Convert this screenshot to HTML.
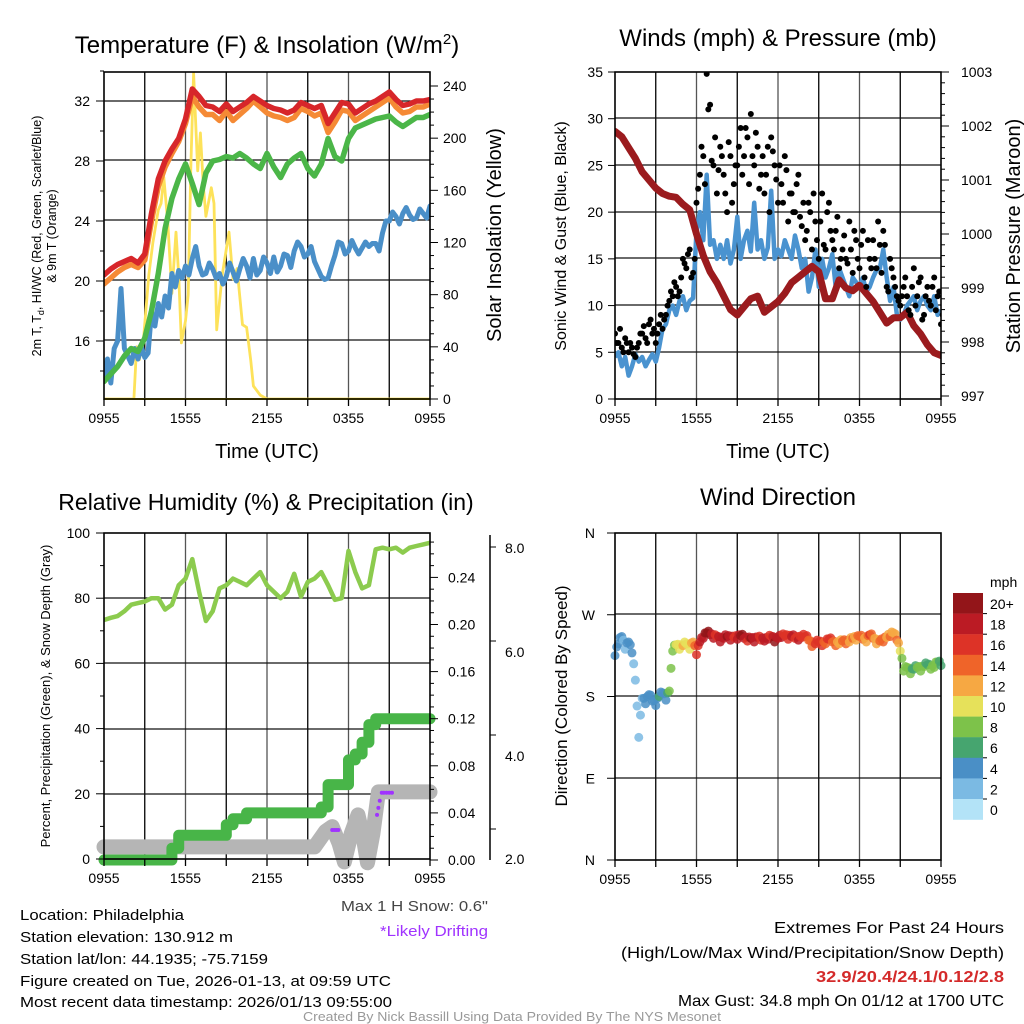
<!DOCTYPE html>
<html><head><meta charset="utf-8">
<style>
html,body{margin:0;padding:0;background:#fff;}
svg{display:block;font-family:"Liberation Sans",Arial,sans-serif;}
</style></head>
<body>
<svg id="c" width="1024" height="1024" viewBox="0 0 1024 1024" xmlns="http://www.w3.org/2000/svg">
<defs>
<clipPath id="clip1"><rect x="104" y="72" width="326" height="327"/></clipPath>
<clipPath id="clip2"><rect x="615" y="72" width="326" height="327"/></clipPath>
</defs>
</svg>
<script>
// ---------- DATA ----------
const xTickLabels = ["0955","1555","2155","0355","0955"];
// half-hourly (0..24h)
const tempRed = [20.4,20.8,21.1,21.3,21.5,21.2,21.8,24.5,26.8,28,28.8,29.5,30.8,32.8,32.3,31.7,31.6,31.3,31.8,31.3,31.6,31.9,32.3,32,31.7,31.5,31.4,31.2,31.4,31.9,31.7,31.5,31.7,30.5,31.2,31.9,31.8,31.2,31.5,31.8,32,32.3,32.6,32.1,31.7,31.8,32,32,32.1];
const temp9m = [19.8,20.2,20.6,20.9,21.1,20.9,21.4,24,26.3,27.6,28.5,29.3,30.5,32.3,31.6,31.1,31.1,30.7,31.3,30.7,31.1,31.5,32,31.6,31.2,31,30.9,30.7,30.9,31.5,31.3,31,31.2,29.9,30.6,31.4,31.3,30.7,31,31.3,31.6,31.9,32.2,31.6,31.2,31.3,31.6,31.6,31.8];
const dewGreen = [13.3,13.8,14.3,15,15.5,15.3,16.2,18,20.5,23.5,25.5,26.8,27.8,26.5,25.1,27.2,28,28.1,28.3,28.2,28.5,28.2,27.8,27.5,28.5,27.6,26.9,27.8,28.2,28.5,27.5,27.0,27.8,29.5,28.3,28,29.5,30.2,30.4,30.6,30.8,30.9,31,30.6,30.3,30.6,30.9,30.9,31.1];
// quarter-hourly (0..24h)
const windChill = [13.5,14.8,13.2,15.5,16,19.5,15.5,15,14.5,15.5,14.8,15.6,14.9,15.2,18,17,18.5,17.6,19,18.2,20.5,19.6,20.7,20.2,21,20.4,21.5,22.3,21,20.4,20.5,21.2,20.8,20.2,20.5,19.8,20.3,21.2,20.6,20,20.8,21.5,21,20.2,21.5,20.4,20.7,21.6,21.2,20.5,21.6,20.6,21,21.8,21.7,20.9,22,22.6,22.3,21.6,21.8,22.3,21.3,20.8,20.3,20.1,20.2,21,21.7,22.6,22.5,21.8,22,22.7,22.2,21.8,22.2,22.6,22.3,22.5,22.5,22,23.2,24,24,24.6,24.3,23.8,24.5,24.9,24.4,24.1,24.2,24.8,24.5,24.2,25];
const solarHours = [0,2.2,2.4,2.6,2.9,3.3,3.6,4.0,4.2,4.4,4.7,5.0,5.3,5.5,5.7,6.0,6.2,6.4,6.6,6.9,7.1,7.3,7.5,7.9,8.1,8.3,8.7,9.2,9.5,9.8,10.2,10.5,10.8,11.0,11.5,12,24];
const solarVals  = [0,0,40,30,45,95,120,145,150,170,135,81,128,95,43,60,80,180,250,175,204,165,140,162,150,53,95,128,92,100,57,55,30,10,3,0,0];
const sonicWind = [4.5,5,3.5,4.5,2.5,3.5,4.8,4,4.5,3.5,4.2,4.8,4,5.5,7.5,8,9.5,10,9,10.5,11,9.5,10.5,10.8,18,20,17,24,16.5,17,15,16.5,15,17,14.5,16,19.5,15,17,18,15.8,21,16,17,15,16.2,22.3,15,16,15.3,17,16,15,17.5,16,14,15,11.5,13,16,12,15,13,14,15.5,12,14,13,12,11,13,12.5,12,13,11.5,12,13,13.8,14,16,13,10.5,12,9,8.5,9,10,10.5,11,9.5,10.5,11,10,9.5,11,9,9.5];
const gustSpeed = [7,6,5.5,6.5,5,5.5,4.5,6,7,6.5,8,7,6,8,7.5,9,10.5,11,12,11.5,15,14,16,13.5,21,24,26,34.8,31.5,25,22,27,24,20,26,23,25,29,26,28,30.5,25,27,24,22,27,28,25,21,23,26,19,22,20,24,18.5,17,21,16,19,15,22,16,21,17,18,14,16,15,19,13.5,17,14,18,12,15,17,14,16.5,18,12,15,13,11,10,12,11,9,14,11,13,9,12,10,13,11,8];
const gust2 = [6,7.5,5,6,6,4.8,5.5,7,7.8,6,8.5,7.5,7,9,8.5,10,11.5,12.5,11,13,14.5,15.5,13,15,22.5,27,23,31,25.5,28,24.5,26,22,27.5,21,25,27,24,29,23,26,28.5,22.5,26,24,20,26.5,23.5,25,21,24.5,22,20,23,19.5,21,18,20,22,17,19,16.5,20,18,16,19.5,15,17.5,14.5,16,18,15,16.5,13,17,14,15,19,13.5,16.5,11.5,14,12,10.5,11,13,9.5,12,10,12.5,8.5,11,10.5,12,9.5,11.5,9];
const pressure = [1001.9,1001.8,1001.6,1001.4,1001.15,1001.0,1000.85,1000.75,1000.7,1000.68,1000.55,1000.45,1000.0,999.6,999.3,999.1,998.85,998.6,998.5,998.65,998.8,998.85,998.55,998.65,998.75,998.9,999.1,999.2,999.3,999.4,999.3,998.8,998.8,999.15,999.0,998.95,999.05,998.9,998.75,998.55,998.35,998.45,998.45,998.55,998.3,998.15,997.95,997.8,997.75];
const relHum = [73.3,74,74.5,76,78,78.5,79,80,80,76.5,78,84,86,92,82,73,76,83,84,86,85,84,86,88,84,82,80,82,87.5,80.5,85,86,88,84,79.5,80,94.5,88,83,84,95,95.5,95,95.5,94,95.5,96,96.5,97];
const precip = [0,0,0,0,0,0,0,0,0,0,0.01,0.021,0.021,0.021,0.021,0.021,0.021,0.021,0.03,0.035,0.035,0.04,0.04,0.04,0.04,0.04,0.04,0.04,0.04,0.04,0.04,0.04,0.045,0.064,0.064,0.064,0.085,0.09,0.1,0.115,0.12,0.12,0.12,0.12,0.12,0.12,0.12,0.12,0.12];
const snowHours = [0,15.5,16.3,16.8,17.3,17.7,18.2,18.7,19.1,19.4,19.8,20.2,24];
const snowDepth = [1.62,1.62,1.95,2.05,1.7,1.3,1.9,2.3,1.8,1.28,1.9,2.79,2.79];
const driftHours = [16.8,16.95,17.1,17.25,20.1,20.2,20.3,20.45,20.6,20.8,21.0,21.2];
const driftDepth = [1.98,1.98,1.98,1.98,2.3,2.45,2.6,2.77,2.77,2.77,2.77,2.77];
const windDir = [225,238,246,232,240,228,198,135,178,172,182,175,170,180,184,176,186,230,237,232,236,238,232,240,226,240,244,250,248,244,246,240,244,246,242,245,243,247,244,241,244,240,245,242,241,243,246,240,244,245,247,243,246,244,242,245,246,242,235,238,240,236,238,243,240,236,238,241,238,240,244,242,246,243,240,248,244,238,241,240,245,246,250,242,230,208,212,205,210,212,208,213,215,210,212,218,214];
const dirSpeed = [3,4,3.5,2,4,3,2,1.5,2,4,3.5,3,4,5,4,3,7,8,9,10,11,9,10,12,15,17,18,20,19,17,16,18,17,19,18,16,17,20,18,16,19,18,17,16,18,17,16,19,18,17,16,15,18,16,17,15,16,14,13,15,16,15,14,16,14,13,12,13,14,12,13,12,14,13,12,15,13,12,13,14,12,13,11,14,9,7,8,7,6,7,8,7,6,7,8,7,6];
const barLabels = ["20+","18","16","14","12","10","8","6","4","2","0"];
const barColors = ["#931519","#bb1b24","#dd3327","#ef6429","#f6a843","#e6e15a","#7dc24a","#46a56f","#4a8fc6","#7bbae3","#b3e3f7"];

// ---------- HELPERS ----------
const S = document.getElementById('c');
const NS = "http://www.w3.org/2000/svg";
function mk(tag, at, parent){const e=document.createElementNS(NS,tag);for(const k in at)e.setAttribute(k,at[k]);(parent||S).appendChild(e);return e;}
function txt(s,x,y,size,anchor,extra){const e=mk('text',Object.assign({x:x,y:y,'font-size':size,'text-anchor':anchor||'middle',fill:'#000'},extra||{}));e.textContent=s;return e;}
function pathFrom(xs,ys,fx,fy){let d='';for(let i=0;i<xs.length;i++){d+=(i?'L':'M')+fx(xs[i]).toFixed(1)+','+fy(ys[i]).toFixed(1);}return d;}
const half = tempRed.map((_,i)=>i*0.5);
const quarter = windChill.map((_,i)=>i*0.25);

function frame(x0,x1,y0,y1,hgrid,name){
  const g=mk('g',{});
  
  
  for(let i=1;i<8;i++){const x=x0+(x1-x0)*i/8;mk('line',{x1:x,x2:x,y1:y0,y2:y1,stroke:(i%2?'#000':'#555'),'stroke-width':1.3},g);}
  hgrid.forEach(y=>mk('line',{x1:x0,x2:x1,y1:y,y2:y,stroke:'#111','stroke-width':1.3},g));
  return g;
}
function border(x0,x1,y0,y1,name){
  const r=mk('rect',{x:x0,y:y0,width:x1-x0,height:y1-y0,fill:'none',stroke:'#000','stroke-width':1.6});
  
  
  const g=mk('g',{});
  
  
  for(let i=0;i<=8;i++){const x=x0+(x1-x0)*i/8;mk('line',{x1:x,x2:x,y1:y1,y2:y1+7,stroke:'#000','stroke-width':1.3},g);}
  xTickLabels.forEach((l,i)=>{const t=txt(l,x0+(x1-x0)*i/4,y1+24,14);g.appendChild(t);});
}

// ================= PANEL 1 =================
{
 const X0=104,X1=430,Y0=72,Y1=399;
 const fx=h=>X0+(X1-X0)*h/24;
 const fy=v=>101+(32-v)*15;
 const fs=v=>399-v*(313/240);
 frame(X0,X1,Y0,Y1,[101,160,220,280,340],'temp-panel');
 const cg=mk('g',{'clip-path':'url(#clip1)'});
 
 
 const lines=[['solar-insolation-line',solarHours,solarVals,fs,'#fde25a',2.8],
   ['wind-chill-line',quarter,windChill,fy,'#4a8fc8',5],
   ['dewpoint-line',half,dewGreen,fy,'#4bb648',5.5],
   ['temp-9m-line',half,temp9m,fy,'#f58a35',5.5],
   ['temp-2m-line',half,tempRed,fy,'#d7262a',5.5]];
 lines.forEach(L=>{const p=mk('path',{d:pathFrom(L[1],L[2],fx,L[3]),fill:'none',stroke:L[4],'stroke-width':L[5],'stroke-linejoin':'round','stroke-linecap':'round'},cg);
   
   });
 mk('line',{x1:X0,x2:X1,y1:399,y2:399,stroke:'#f5d800','stroke-width':2});
 border(X0,X1,Y0,Y1,'temp-panel');
 const ya=mk('g',{});
 
 
 [16,20,24,28,32].forEach(v=>{mk('line',{x1:X0-8,x2:X0,y1:fy(v),y2:fy(v),stroke:'#000'},ya);ya.appendChild(txt(String(v),X0-14,fy(v)+5,14,'end'));});
 [14,18,22,26,30,34].forEach(v=>mk('line',{x1:X0-4,x2:X0,y1:fy(v),y2:fy(v),stroke:'#000'},ya));
 const yb=mk('g',{});
 
 
 [0,40,80,120,160,200,240].forEach(v=>{mk('line',{x1:X1,x2:X1+8,y1:fs(v),y2:fs(v),stroke:'#000'},yb);yb.appendChild(txt(String(v),X1+13,fs(v)+5,14,'start'));});
 for(let v=10;v<250;v+=10){if(v%40)mk('line',{x1:X1,x2:X1+4,y1:fs(v),y2:fs(v),stroke:'#000'},yb);}
 const t=txt('',267,53,24);t.innerHTML='Temperature (F) &amp; Insolation (W/m<tspan dy="-9" font-size="15">2</tspan><tspan dy="9">)</tspan>';
 
 
 const xt=txt('Time (UTC)',267,458,20);
 
 
 const yt=mk('g',{transform:'translate(41,236) rotate(-90)'});
 
 
 const a=txt('',0,0,12.5);a.innerHTML='2m T, T<tspan font-size="9" dy="3">d</tspan><tspan dy="-3">, HI/WC (Red, Green, Scarlet/Blue)</tspan>';yt.appendChild(a);
 yt.appendChild(txt('& 9m T (Orange)',0,15,12.5));
 const yt2=mk('g',{transform:'translate(501,235) rotate(-90)'});
 
 
 yt2.appendChild(txt('Solar Insolation (Yellow)',0,0,20));
}

// ================= PANEL 2 =================
{
 const X0=615,X1=941,Y0=72,Y1=399;
 const fx=h=>X0+(X1-X0)*h/24;
 const fy=v=>399-v*(327/35);
 const fp=v=>72+(1003-v)*(324/6);
 frame(X0,X1,Y0,Y1,[118,165,212,258,305,352],'wind-panel');
 const cg=mk('g',{'clip-path':'url(#clip2)'});
 
 
 const p=mk('path',{d:pathFrom(quarter,sonicWind,fx,fy),fill:'none',stroke:'#4a93d0','stroke-width':4.5,'stroke-linejoin':'round'},cg);
 
 
 const pp=mk('path',{d:pathFrom(half,pressure,fx,fp),fill:'none',stroke:'#9b1b1e','stroke-width':7,'stroke-linejoin':'round','stroke-linecap':'round'},cg);
 
 
 const gg=mk('g',{},cg);
 
 
 gustSpeed.forEach((v,i)=>mk('circle',{cx:fx(quarter[i]),cy:fy(v),r:3,fill:'#000'},gg));
 gust2.forEach((v,i)=>mk('circle',{cx:fx(quarter[i]+0.12),cy:fy(v),r:3,fill:'#000'},gg));
 border(X0,X1,Y0,Y1,'wind-panel');
 const ya=mk('g',{});
 
 
 [0,5,10,15,20,25,30,35].forEach(v=>{mk('line',{x1:X0-7,x2:X0,y1:fy(v),y2:fy(v),stroke:'#000'},ya);ya.appendChild(txt(String(v),X0-12,fy(v)+5,14,'end'));});
 const yb=mk('g',{});
 
 
 [997,998,999,1000,1001,1002,1003].forEach(v=>{mk('line',{x1:X1,x2:X1+8,y1:fp(v),y2:fp(v),stroke:'#000'},yb);yb.appendChild(txt(String(v),X1+20,fp(v)+5,14,'start'));});
 for(let v=997.2;v<1003;v+=0.2){if(Math.abs(v-Math.round(v))>0.05)mk('line',{x1:X1,x2:X1+4,y1:fp(v),y2:fp(v),stroke:'#000'},yb);}
 const t=txt('Winds (mph) & Pressure (mb)',778,46,24);
 
 
 const xt=txt('Time (UTC)',778,458,20);
 
 
 const g1=mk('g',{transform:'translate(566,236) rotate(-90)'});
 
 
 g1.appendChild(txt('Sonic Wind & Gust (Blue, Black)',0,0,16));
 const g2=mk('g',{transform:'translate(1020,236) rotate(-90)'});
 
 
 g2.appendChild(txt('Station Pressure (Maroon)',0,0,20));
}

// ================= PANEL 3 =================
{
 const X0=104,X1=430,Y0=533,Y1=859;
 const fx=h=>X0+(X1-X0)*h/24;
 const fy=v=>859-v*3.26;
 const fpr=v=>860-v*(47.1/0.04);
 const fsn=v=>923-v*47;
 frame(X0,X1,Y0,Y1,[598,663,729,794],'rh-panel');
 const gr=mk('path',{d:pathFrom(snowHours,snowDepth,fx,fsn),fill:'none',stroke:'#b5b5b5','stroke-width':15,'stroke-linejoin':'round','stroke-linecap':'round'});
 
 
 let d='';precip.forEach((v,i)=>{const x=fx(half[i]),y=fpr(v);d+=(i?'L'+x.toFixed(1)+','+fpr(precip[i-1]).toFixed(1)+'L':'M')+x.toFixed(1)+','+y.toFixed(1);});
 d+='L'+fx(24)+','+fpr(precip[precip.length-1]);
 const pr=mk('path',{d:d,fill:'none',stroke:'#48b548','stroke-width':11,'stroke-linejoin':'round','stroke-linecap':'round'});
 
 
 const dg=mk('g',{});
 
 
 driftHours.forEach((h,i)=>mk('circle',{cx:fx(h),cy:fsn(driftDepth[i]),r:2,fill:'#a033ff'},dg));
 const rh=mk('path',{d:pathFrom(half,relHum,fx,fy),fill:'none',stroke:'#8ccb4e','stroke-width':4.5,'stroke-linejoin':'round'});
 
 
 border(X0,X1,Y0,Y1,'rh-panel');
 const ya=mk('g',{});
 
 
 [0,20,40,60,80,100].forEach(v=>{mk('line',{x1:X0-8,x2:X0,y1:fy(v),y2:fy(v),stroke:'#000'},ya);ya.appendChild(txt(String(v),X0-14,fy(v)+5,14,'end'));});
 [10,30,50,70,90].forEach(v=>mk('line',{x1:X0-4,x2:X0,y1:fy(v),y2:fy(v),stroke:'#000'},ya));
 const yb=mk('g',{});
 
 
 ['0.00','0.04','0.08','0.12','0.16','0.20','0.24'].forEach(s=>{const v=+s;mk('line',{x1:X1,x2:X1+8,y1:fpr(v),y2:fpr(v),stroke:'#000'},yb);yb.appendChild(txt(s,X1+18,fpr(v)+5,14,'start'));});
 for(let v=0.01;v<0.28;v+=0.01){if(Math.round(v*100)%4)mk('line',{x1:X1,x2:X1+4,y1:fpr(v),y2:fpr(v),stroke:'#000'},yb);}
 const yc=mk('g',{});
 
 
 mk('line',{x1:490,x2:490,y1:535,y2:860,stroke:'#000','stroke-width':1.5},yc);
 [2,4,6,8].forEach(v=>mk('line',{x1:490,x2:496,y1:fsn(v),y2:fsn(v),stroke:'#000'},yc));
 [['8.0',553],['6.0',657],['4.0',761],['2.0',864]].forEach(a=>yc.appendChild(txt(a[0],505,a[1],14,'start')));
 const t=txt('Relative Humidity (%) & Precipitation (in)',266,510,23);
 
 
 const g1=mk('g',{transform:'translate(50,696) rotate(-90)'});
 
 
 g1.appendChild(txt('Percent, Precipitation (Green), & Snow Depth (Gray)',0,0,13));
 const a=txt('Max 1 H Snow: 0.6"',488,911,15,'end',{fill:'#444',textLength:147,lengthAdjust:'spacingAndGlyphs'});
 
 
 const b=txt('*Likely Drifting',488,936,15,'end',{fill:'#a033ff',textLength:108,lengthAdjust:'spacingAndGlyphs'});
 
 
}

// ================= PANEL 4 =================
{
 const X0=615,X1=941,Y0=533,Y1=860;
 const fx=h=>X0+(X1-X0)*h/24;
 const fy=v=>860-v*(327/360);
 frame(X0,X1,Y0,Y1,[614,696,778],'dir-panel');
 const col=s=>barColors[10-Math.min(10,Math.floor((s+1)/2))];
 const g=mk('g',{});
 
 
 windDir.forEach((v,i)=>{mk('circle',{cx:fx(quarter[i]),cy:fy(v),r:4.5,fill:col(dirSpeed[i]),'fill-opacity':0.85},g);
   if(i<windDir.length-1){mk('circle',{cx:fx(quarter[i]+0.125),cy:fy((v+windDir[i+1])/2+3),r:4.5,fill:col((dirSpeed[i]+dirSpeed[i+1])/2),'fill-opacity':0.85},g);}});
 border(X0,X1,Y0,Y1,'dir-panel');
 const ya=mk('g',{});
 
 
 [['N',360],['W',270],['S',180],['E',90],['N',0]].forEach(a=>{mk('line',{x1:X0-8,x2:X0,y1:fy(a[1]),y2:fy(a[1]),stroke:'#000'},ya);ya.appendChild(txt(a[0],X0-20,fy(a[1])+5,14,'end'));});
 const t=txt('Wind Direction',778,505,24);
 
 
 const g1=mk('g',{transform:'translate(567,696) rotate(-90)'});
 
 
 g1.appendChild(txt('Direction (Colored By Speed)',0,0,17));
 const cb=mk('g',{});
 
 
 barColors.forEach((c,i)=>{mk('rect',{x:953,y:593+i*20.6,width:30,height:20.8,fill:c},cb);
   cb.appendChild(txt(barLabels[i],990,593+i*20.6+16,14,'start'));
   if(i)mk('line',{x1:983,x2:987,y1:593+i*20.6,y2:593+i*20.6,stroke:'#000'},cb);});
 cb.appendChild(txt('mph',990,587,14,'start'));
}

// ================= FOOTER =================
[['Location: Philadelphia',920,164,'location-text'],['Station elevation: 130.912 m',942,213,'elevation-text'],['Station lat/lon: 44.1935; -75.7159',964,248,'latlon-text'],['Figure created on Tue, 2026-01-13, at 09:59 UTC',986,371,'created-text'],['Most recent data timestamp: 2026/01/13 09:55:00',1007,372,'timestamp-text']].forEach(a=>{
 const t=txt(a[0],20,a[1],15,'start',{textLength:a[2],lengthAdjust:'spacingAndGlyphs'});
 
 });
[['Extremes For Past 24 Hours',933,230,'#000','normal','extremes-title'],['(High/Low/Max Wind/Precipitation/Snow Depth)',958,383,'#000','normal','extremes-subtitle'],['32.9/20.4/24.1/0.12/2.8',982,188,'#d42a2a','bold','extremes-values'],['Max Gust: 34.8 mph On 01/12 at 1700 UTC',1006,326,'#000','normal','max-gust-text']].forEach(a=>{
 const t=txt(a[0],1004,a[1],16,'end',{textLength:a[2],lengthAdjust:'spacingAndGlyphs',fill:a[3],'font-weight':a[4]});
 
 });
const cr=txt('Created By Nick Bassill Using Data Provided By The NYS Mesonet',512,1021,12.5,'middle',{fill:'#999',textLength:418,lengthAdjust:'spacingAndGlyphs'});


</script>
</body></html>
